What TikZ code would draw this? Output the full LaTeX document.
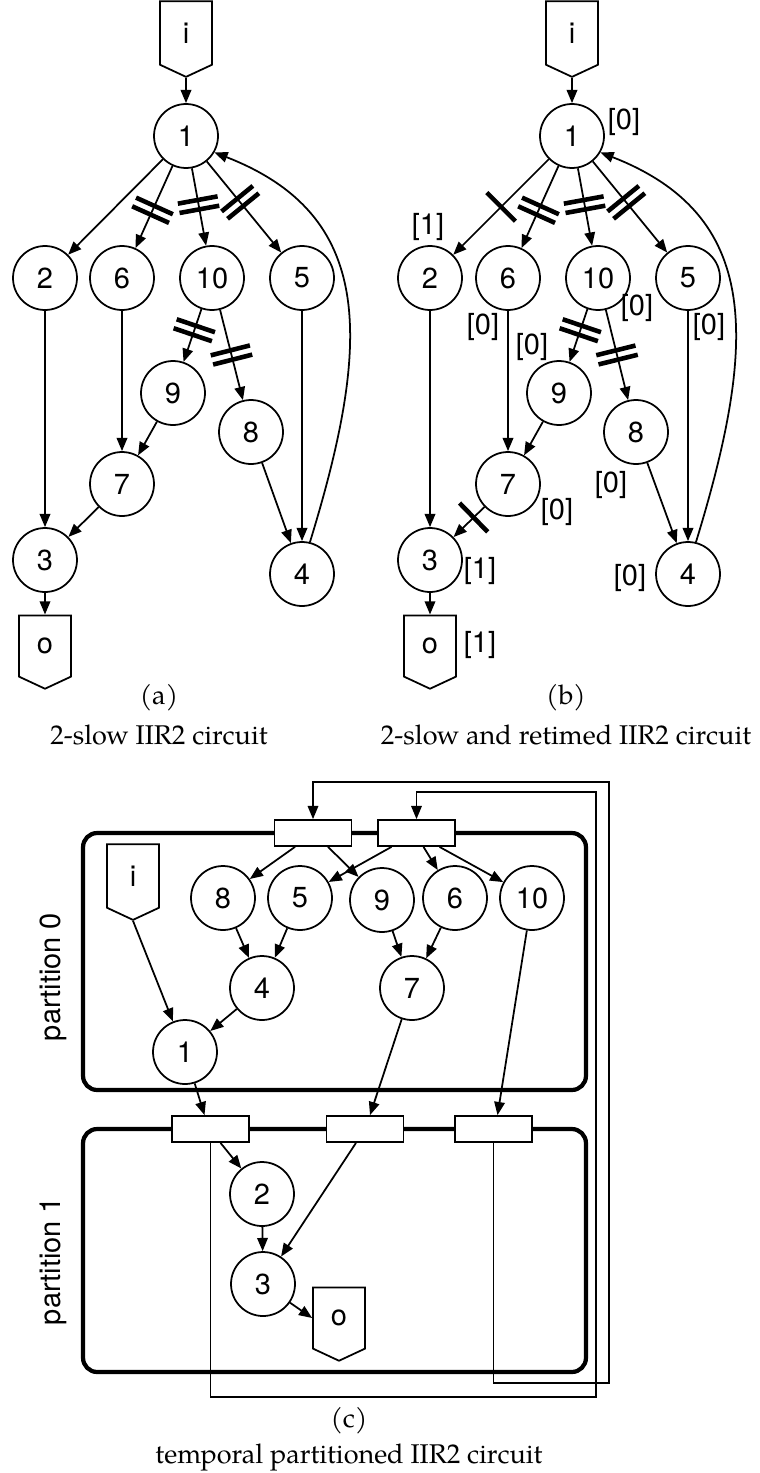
\documentclass[tikz,border=0pt]{standalone}
\usepackage{fontspec}
\setmainfont{TeX Gyre Heros}
\newfontfamily\capfont{TeX Gyre Pagella}
\usetikzlibrary{shapes.symbols, arrows.meta, calc, decorations.markings}

\begin{document}
\begin{tikzpicture}[
    x=0.02cm, y=-0.02cm,
    op/.style={circle, draw, line width=1pt, minimum size=1.28cm, inner sep=0pt,
               font=\fontsize{16.5}{18}\selectfont},
    iobox/.style={signal, draw, line width=1pt, signal to=south, signal from=nowhere,
                  signal pointer angle=130, minimum width=1.04cm, minimum height=1.3cm,
                  inner sep=0pt, font=\fontsize{16.5}{18}\selectfont},
    reg/.style={rectangle, draw, fill=white, line width=1pt, minimum width=1.54cm,
                minimum height=0.52cm, inner sep=0pt},
    part/.style={rectangle, draw, line width=2.4pt, rounded corners=8pt, inner sep=0pt},
    arrow/.style={-{Triangle[length=7.5pt,width=6pt]}, line width=1pt},
    fb/.style={line width=0.9pt},
    lbl/.style={font=\fontsize{16.5}{18}\selectfont, inner sep=0pt},
    sidelbl/.style={font=\fontsize{16.5}{18}\selectfont, inner sep=0pt, rotate=90},
    captext/.style={font=\capfont\fontsize{15.4}{18}\selectfont, inner sep=0pt, anchor=base},
    bar1/.style={postaction={decorate, decoration={markings, mark=at position #1 with
                 {\draw[-, line width=2.6pt] (0pt,-11.5pt) -- (0pt,11.5pt);}}}},
    bar2/.style={postaction={decorate, decoration={markings, mark=at position #1 with
                 {\draw[-, line width=2.6pt] (-2.7pt,-11.5pt) -- (-2.7pt,11.5pt)
                                            (2.7pt,-11.5pt) -- (2.7pt,11.5pt);}}}},
    bar1/.default=0.5, bar2/.default=0.5,
]
\useasboundingbox (0,0) rectangle (760,1473);

% (a) 2-slow circuit
\node[iobox] (ai) at (186,33) {i};
\node[op] (a1) at (186,136) {1};
\node[op] (a2) at (45,278) {2};
\node[op] (a6) at (122,278) {6};
\node[op] (a10) at (212,278) {10};
\node[op] (a5) at (302,278) {5};
\node[op] (a9) at (173,393) {9};
\node[op] (a8) at (251,432) {8};
\node[op] (a7) at (122,484) {7};
\node[op] (a3) at (45,560) {3};
\node[op] (a4) at (302,574) {4};
\node[iobox] (ao) at (45,646) {o};

\draw[arrow] (ai.south) -- (a1);
\draw[arrow] (a1) -- (a2);
\draw[arrow, bar2=0.54] (a1) -- (a6);
\draw[arrow, bar2=0.47] (a1) -- (a10);
\draw[arrow, bar2=0.45] (a1) -- (a5);
\draw[arrow, bar2=0.4] (a10) -- (a9);
\draw[arrow, bar2] (a10) -- (a8);
\draw[arrow] (a2) -- (a3);
\draw[arrow] (a6) -- (a7);
\draw[arrow] (a9) -- (a7);
\draw[arrow] (a7) -- (a3);
\draw[arrow] (a8) -- (a4);
\draw[arrow] (a5) -- (a4);
\draw[arrow] (a3) -- (ao.north);
\draw[arrow] (a4.76) .. controls (372,340) and (375,215) .. (a1.-30);

\node[captext] (capa) at (159,704) {(a)};
\node[captext] (capatxt) at (159,744) {2-slow IIR2 circuit};

% (b) 2-slow and retimed circuit
\node[iobox] (bi) at (572,33) {i};
\node[op] (b1) at (572,136) {1};
\node[op] (b2) at (430,278) {2};
\node[op] (b6) at (508,278) {6};
\node[op] (b10) at (598,278) {10};
\node[op] (b5) at (688,278) {5};
\node[op] (b9) at (559,393) {9};
\node[op] (b8) at (636,432) {8};
\node[op] (b7) at (508,484) {7};
\node[op] (b3) at (430,560) {3};
\node[op] (b4) at (688,574) {4};
\node[iobox] (bo) at (430,646) {o};

\draw[arrow] (bi.south) -- (b1);
\draw[arrow, bar1] (b1) -- (b2);
\draw[arrow, bar2=0.54] (b1) -- (b6);
\draw[arrow, bar2=0.47] (b1) -- (b10);
\draw[arrow, bar2=0.45] (b1) -- (b5);
\draw[arrow, bar2=0.4] (b10) -- (b9);
\draw[arrow, bar2] (b10) -- (b8);
\draw[arrow] (b2) -- (b3);
\draw[arrow] (b6) -- (b7);
\draw[arrow] (b9) -- (b7);
\draw[arrow, bar1=0.35] (b7) -- (b3);
\draw[arrow] (b8) -- (b4);
\draw[arrow] (b5) -- (b4);
\draw[arrow] (b3) -- (bo.north);
\draw[arrow] (b4.76) .. controls (758,340) and (761,215) .. (b1.-30);

% retiming values
\node[lbl] (l1) at (624,122) {[0]};
\node[lbl] (l2) at (428,227) {[1]};
\node[lbl] (l6) at (483,327) {[0]};
\node[lbl] (l10) at (637,308) {[0]};
\node[lbl] (l5) at (709,327) {[0]};
\node[lbl] (l9) at (532,347) {[0]};
\node[lbl] (l8) at (611,485) {[0]};
\node[lbl] (l7) at (557,512) {[0]};
\node[lbl] (l3) at (480,571) {[1]};
\node[lbl] (l4) at (630,578) {[0]};
\node[lbl] (lo) at (480,645) {[1]};

\node[captext] (capb) at (566,704) {(b)};
\node[captext] (capbtxt) at (566,744) {2-slow and retimed IIR2 circuit};

% (c) temporal partitions
\node[part, minimum width=10.06cm, minimum height=5.14cm] (part0) at (334.5,961.5) {};
\node[part, minimum width=10.06cm, minimum height=4.86cm] (part1) at (334.5,1250.5) {};
\node[sidelbl] (p0) at (53,977) {partition 0};
\node[sidelbl] (p1) at (53,1261) {partition 1};

\node[reg] (r1) at (313,833) {};
\node[reg] (r2) at (416.5,833) {};
\node[reg] (s1) at (210.5,1129) {};
\node[reg] (s2) at (365,1129) {};
\node[reg] (s3) at (493.5,1129) {};

\node[iobox] (ci) at (133,876) {i};
\node[op] (c8) at (223,898) {8};
\node[op] (c5) at (300,898) {5};
\node[op] (c9) at (382,900) {9};
\node[op] (c6) at (455,898) {6};
\node[op] (c10) at (532,898) {10};
\node[op] (c4) at (262,988) {4};
\node[op] (c7) at (412,988) {7};
\node[op] (c1) at (185,1052) {1};
\node[op] (c2) at (262,1194) {2};
\node[op] (c3) at (263,1284) {3};
\node[iobox] (co) at (339,1318) {o};

\draw[arrow] ($(r1.south)+(-18,0)$) -- (c8);
\draw[arrow] ($(r1.south)+(15,0)$) -- (c9);
\draw[arrow] ($(r2.south)+(-25,0)$) -- (c5);
\draw[arrow] ($(r2.south)+(7,0)$) -- (c6);
\draw[arrow] ($(r2.south)+(23,0)$) -- (c10);
\draw[arrow] (ci.south) -- (c1);
\draw[arrow] (c8) -- (c4);
\draw[arrow] (c5) -- (c4);
\draw[arrow] (c4) -- (c1);
\draw[arrow] (c9) -- (c7);
\draw[arrow] (c6) -- (c7);
\draw[arrow] (c1) -- ($(s1.north)+(-6,0)$);
\draw[arrow] (c7) -- ($(s2.north)+(5,0)$);
\draw[arrow] (c10) -- ($(s3.north)+(4,0)$);
\draw[arrow] ($(s1.south)+(10,0)$) -- (c2);
\draw[arrow] ($(s2.south)+(-9,0)$) -- (c3);
\draw[arrow] (c2) -- (c3);
\draw[arrow] (c3) -- (co.west);

% feedback between partitions
\draw[arrow, fb] (s3.south) |- (609,1383) -- (609,782) -| (r1.north);
\draw[arrow, fb] (s1.south) |- (596,1397) -- (596,792) -| (r2.north);

\node[captext] (capc) at (349,1427) {(c)};
\node[captext] (capctxt) at (349,1463) {temporal partitioned IIR2 circuit};

\end{tikzpicture}
\end{document}
